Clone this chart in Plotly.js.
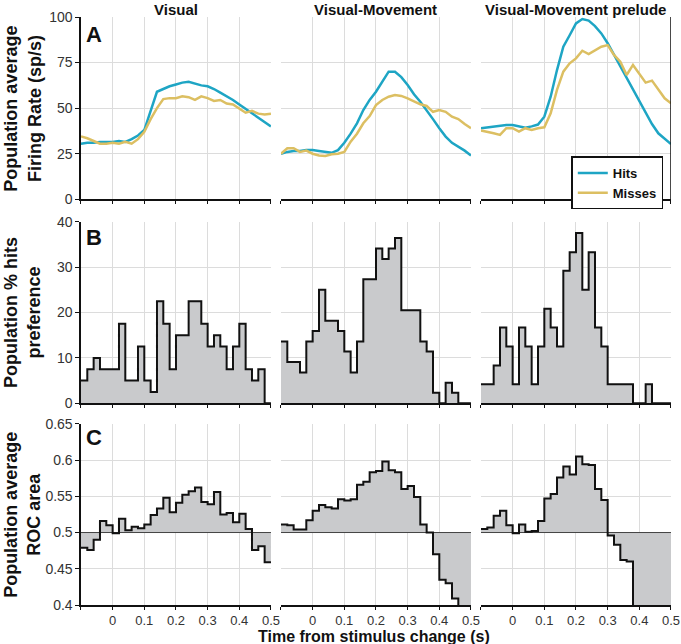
<!DOCTYPE html>
<html>
<head>
<meta charset="utf-8">
<script src="https://cdn.plot.ly/plotly-3.0.1.min.js"></script>
<style>html,body{margin:0;padding:0;background:#fff;}#chart{width:681px;height:644px;}</style>
</head>
<body>
<div id="chart"></div>
<script>
// ---------- DATA ----------
const columnTitles = ["Visual", "Visual-Movement", "Visual-Movement prelude"];
const panelLetters = ["A", "B", "C"];
const rowTitles = ["Population average<br>Firing Rate (sp/s)", "Population % hits<br>preference", "Population average<br>ROC area"];
const xTitle = "Time from stimulus change (s)";
const seriesNames = ["Hits", "Misses"];

// time points for firing-rate curves (s)
const timeA = [-0.1,-0.08,-0.06,-0.04,-0.02,0,0.02,0.04,0.06,0.08,0.1,0.12,0.14,0.16,0.18,0.2,0.22,0.24,0.26,0.28,0.3,0.32,0.34,0.36,0.38,0.4,0.42,0.44,0.46,0.48,0.5];

// Row A: firing rate (sp/s)
const hitsVisual   = [30.5,31,31,31.5,31.5,31.5,32,31.5,33,35,38,48,59,60.5,62,63,64,64.5,63.5,62.5,62,60.5,58.5,56.5,54.5,52,49.5,47,45,42.5,40];
const missesVisual = [34.5,33.5,32,30.5,30.5,31,30.5,31.5,30.5,33,37,44,50,55,55.5,55.5,56.5,56,54.5,56.5,55.5,54,54.5,52.5,52,49.5,47.5,48.5,47,46.5,47];
const hitsVM       = [25,26,26.5,26.5,27,27,26.5,26,25.5,27,31,36,41.7,49,54.5,59,64.5,70,70,67,62.7,57.6,53.5,49,44,39,34.4,31,29,26.7,24];
const missesVM     = [25,28,28,26,26.7,25,24,23.8,24.7,25,26,31.6,36,41.7,45.7,51.7,54.5,56.3,57.2,56.7,55.4,53.6,52.1,51.2,48,49,48,45.3,44,41.3,39];
const hitsVMP      = [39,39.5,40,40.2,40.8,40.8,39.9,39.3,40,41,45.3,56.3,70.9,83.7,90,96.5,98.9,98,95,91,85.6,79.2,72.8,66.4,60,53.6,47.2,41.3,36.2,33.5,30.3];
const missesVMP    = [37.7,37.1,36.2,35.3,39,39,37.1,39,38,39,39.5,47.2,60,70,74.6,77.3,81.5,79.7,81.9,83.7,84.6,79.2,75.5,68.2,73.7,68.7,64,65.1,60,55.4,52.7];

// bin left edges (20 ms bins) for rows B and C, last edge 0.5
const binLeft = [-0.1,-0.08,-0.06,-0.04,-0.02,0,0.02,0.04,0.06,0.08,0.1,0.12,0.14,0.16,0.18,0.2,0.22,0.24,0.26,0.28,0.3,0.32,0.34,0.36,0.38,0.4,0.42,0.44,0.46,0.48];
const binEnd = 0.5;

// Row B: % hits preference
const prefVisual = [5,7.5,10,7.5,7.5,7.5,17.5,5,5,12.5,5,2.5,22.5,17.5,7.5,15,15,22.5,22.5,17.5,12.5,15,12.5,7.5,12.5,17.5,7.5,5,7.5,0];
const prefVM     = [13.6,9.1,9.1,6.8,13.6,15.9,25,18.2,18.2,15.9,11.4,6.8,13.6,27.3,27.3,34.1,31.8,34.1,36.4,20.5,20.5,20.5,13.6,11.4,2.3,0,4.5,2.3,0,0];
const prefVMP    = [4.2,4.2,8.3,16.7,12.5,4.2,16.7,12.5,4.2,12.5,20.8,16.7,12.5,29.2,33.3,37.5,25,33.3,16.7,12.5,4.2,4.2,4.2,4.2,0,0,4.2,0,0,0];

// Row C: ROC area
const rocVisual = [0.479,0.476,0.490,0.516,0.510,0.499,0.519,0.503,0.508,0.506,0.511,0.524,0.533,0.548,0.528,0.541,0.552,0.557,0.562,0.542,0.539,0.556,0.525,0.527,0.514,0.526,0.505,0.476,0.481,0.459];
const rocVM     = [0.511,0.510,0.504,0.504,0.517,0.530,0.538,0.535,0.533,0.546,0.544,0.546,0.566,0.570,0.583,0.585,0.598,0.586,0.583,0.560,0.564,0.549,0.511,0.500,0.470,0.435,0.430,0.409,0.398,0.39];
const rocVMP    = [0.505,0.507,0.523,0.530,0.510,0.499,0.511,0.501,0.502,0.516,0.547,0.553,0.576,0.591,0.580,0.605,0.594,0.593,0.560,0.545,0.496,0.483,0.462,0.460,0.35,0.35,0.35,0.35,0.35,0.35];
const rocChance = 0.5;

// axis ticks
const xTickVals = [-0.1,0,0.1,0.2,0.3,0.4,0.5];
const xTickText = ["","0","0.1","0.2","0.3","0.4","0.5"];
const yTickA = [0,25,50,75,100];
const yTickB = [0,10,20,30,40];
const yTickC = [0.4,0.45,0.5,0.55,0.6,0.65];
const yTickCText = ["0.4","0.45","0.5","0.55","0.6","0.65"];

// ---------- STYLE ----------
const FONT = "Liberation Sans, Arial, Helvetica, sans-serif";
const BLUE = "#1ea5c4";
const GOLD = "#dcbf62";
const FILL = "#c9cacc";
const GRID = "#dcdcdc";

const colDom = [[0.1189,0.3979],[0.4126,0.6916],[0.7063,0.9853]];
const rowDom = [[0.6905,0.9736],[0.3738,0.6557],[0.0605,0.3420]];

function stepX() { return binLeft.concat([binEnd]); }
function stepY(v) { return v.concat([v[v.length-1]]); }

const rowA = [[hitsVisual, missesVisual],[hitsVM, missesVM],[hitsVMP, missesVMP]];
const rowB = [prefVisual, prefVM, prefVMP];
const rowC = [rocVisual, rocVM, rocVMP];

const traces = [];
const layout = {
  width: 681, height: 644,
  margin: {l:0, r:0, t:0, b:0},
  paper_bgcolor: "#fff", plot_bgcolor: "#fff",
  font: {family: FONT, color: "#222", size: 13},
  showlegend: true,
  legend: {
    x: 0.974, y: 0.757, xanchor: "right", yanchor: "top",
    bgcolor: "#fff", bordercolor: "#111", borderwidth: 1.5,
    font: {family: FONT, size: 13, weight: "bold", color: "#111"},
    itemwidth: 30, tracegroupgap: 0
  },
  annotations: [], shapes: []
};

function axisName(n, letter) { return letter + "axis" + (n === 1 ? "" : n); }
function axisRef(n, letter) { return letter + (n === 1 ? "" : n); }

const yRanges = [[0,100],[0,40],[0.4,0.65]];
const yTicks = [yTickA, yTickB, yTickC];
const yTickTexts = [yTickA.map(String), yTickB.map(String), yTickCText];

for (let r = 0; r < 3; r++) {
  for (let c = 0; c < 3; c++) {
    const n = r*3 + c + 1;
    const xa = axisRef(n, "x"), ya = axisRef(n, "y");
    layout[axisName(n, "x")] = {
      domain: colDom[c], anchor: ya, range: [-0.1, 0.5],
      tickmode: "array", tickvals: xTickVals, ticktext: xTickText,
      showticklabels: r === 2, ticks: "outside", ticklen: 3, tickwidth: 1, tickcolor: "#111",
      showline: true, linecolor: "#111", linewidth: 1.5,
      showgrid: true, gridcolor: GRID, gridwidth: 1, zeroline: false,
      tickfont: {family: FONT, size: 13, color: "#333"}, fixedrange: true
    };
    layout[axisName(n, "y")] = {
      domain: rowDom[r], anchor: xa, range: yRanges[r],
      tickmode: "array", tickvals: yTicks[r], ticktext: yTickTexts[r],
      showticklabels: c === 0, ticks: c === 0 ? "outside" : "", ticklen: 4, tickwidth: 1, tickcolor: "#111",
      showline: c === 0, linecolor: "#111", linewidth: 1.5,
      showgrid: true, gridcolor: GRID, gridwidth: 1, zeroline: false,
      tickfont: {family: FONT, size: 14, color: "#333"}, fixedrange: true
    };

    if (r === 0) {
      const pair = rowA[c];
      traces.push({x: timeA, y: pair[0], xaxis: xa, yaxis: ya, type: "scatter", mode: "lines",
        name: seriesNames[0], line: {color: BLUE, width: 2.5}, showlegend: c === 2, legendgroup: "h"});
      traces.push({x: timeA, y: pair[1], xaxis: xa, yaxis: ya, type: "scatter", mode: "lines",
        name: seriesNames[1], line: {color: GOLD, width: 2.5}, showlegend: c === 2, legendgroup: "m"});
    } else if (r === 1) {
      traces.push({x: stepX(), y: stepY(rowB[c]), xaxis: xa, yaxis: ya, type: "scatter", mode: "lines",
        line: {shape: "hv", color: "#111", width: 2}, fill: "tozeroy", fillcolor: FILL, showlegend: false});
    } else {
      traces.push({x: [-0.1, 0.5], y: [rocChance, rocChance], xaxis: xa, yaxis: ya, type: "scatter", mode: "lines",
        line: {color: "#444", width: 1}, showlegend: false});
      traces.push({x: stepX(), y: stepY(rowC[c]), xaxis: xa, yaxis: ya, type: "scatter", mode: "lines",
        line: {shape: "hv", color: "#111", width: 2}, fill: "tonexty", fillcolor: FILL, showlegend: false});
    }
  }
}

// right edge line in panel A of third column
layout.shapes.push({type: "line", xref: "x3", yref: "y3 domain", x0: 0.5, x1: 0.5, y0: 0, y1: 1,
  line: {color: "#111", width: 1.5}});

// column titles
for (let c = 0; c < 3; c++) {
  layout.annotations.push({text: "<b>" + columnTitles[c] + "</b>", xref: "paper", yref: "paper",
    x: (colDom[c][0] + colDom[c][1]) / 2, y: 0.986, xanchor: "center", yanchor: "middle",
    showarrow: false, font: {family: FONT, size: 15, color: "#111"}});
}
// panel letters
const letterY = [0.947, 0.631, 0.321];
for (let r = 0; r < 3; r++) {
  layout.annotations.push({text: "<b>" + panelLetters[r] + "</b>", xref: "paper", yref: "paper",
    x: 0.124, y: letterY[r], xanchor: "left", yanchor: "middle",
    showarrow: false, font: {family: FONT, size: 22, color: "#111"}});
  layout.annotations.push({text: "<b>" + rowTitles[r] + "</b>", xref: "paper", yref: "paper",
    x: 0.033, y: (rowDom[r][0] + rowDom[r][1]) / 2, xanchor: "center", yanchor: "middle",
    textangle: -90, showarrow: false, font: {family: FONT, size: 18, color: "#111"}});
}
// x title
layout.annotations.push({text: "<b>" + xTitle + "</b>", xref: "paper", yref: "paper",
  x: 0.549, y: 0, xanchor: "center", yanchor: "bottom", yshift: -3,
  showarrow: false, font: {family: FONT, size: 16, color: "#111"}});

Plotly.newPlot("chart", traces, layout, {staticPlot: true, displayModeBar: false});
</script>
</body>
</html>
